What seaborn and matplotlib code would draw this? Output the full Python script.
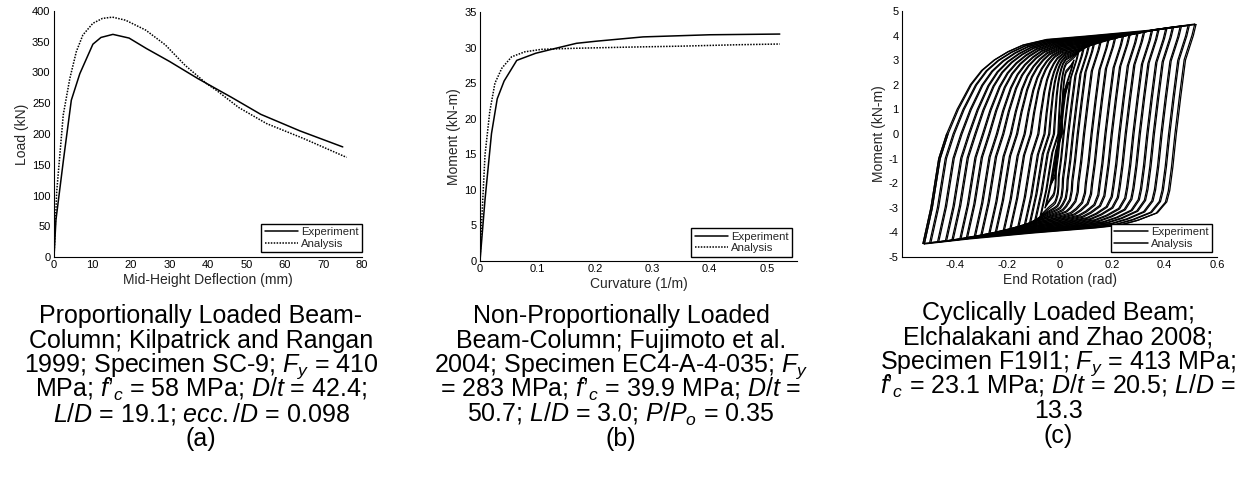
import numpy as np
import pandas as pd
import matplotlib
matplotlib.use("Agg")
import matplotlib.pyplot as plt
import seaborn as sns

# (a) proportionally loaded beam-column: deflection (mm) vs load (kN)
a_exp_defl = [0, 0.5, 2.5, 4.5, 6.7, 10.1, 12.2, 15.3, 19.5, 24, 30, 37.4, 46, 53.7, 63.9, 75]
a_exp_load = [0, 60, 160, 255, 298, 346, 357, 362, 356, 339, 318, 290, 260, 232, 205, 179]
a_ana_defl = [0, 0.7, 2.4, 4.1, 5.8, 7.5, 10.1, 12.6, 15.2, 18.6, 23.8, 28.9, 34, 39.6, 42.2, 48, 55.2, 64.7, 76]
a_ana_load = [0, 106, 231, 290, 334, 361, 380, 388, 390, 385, 369, 345, 312, 282, 271, 243, 217, 193, 162]

# (b) non-proportionally loaded beam-column: curvature (1/m) vs moment (kN-m)
b_exp_curv = [0, 0.0087, 0.020, 0.030, 0.042, 0.064, 0.097, 0.132, 0.168, 0.203, 0.284, 0.40, 0.522]
b_exp_mom = [0, 8.6, 17.9, 22.8, 25.3, 28.2, 29.2, 29.9, 30.6, 30.9, 31.5, 31.8, 31.9]
b_ana_curv = [0, 0.002, 0.0058, 0.0087, 0.017, 0.026, 0.038, 0.055, 0.078, 0.107, 0.165, 0.25, 0.35, 0.45, 0.522]
b_ana_mom = [0, 4, 10.2, 14.9, 21, 25, 27.1, 28.7, 29.4, 29.75, 29.9, 30.05, 30.2, 30.4, 30.5]

# (c) cyclically loaded beam: peak rotation (rad) and peak moment (kN-m) of each cycle
c_exp_amp = [0.03, 0.05, 0.07, 0.09, 0.11, 0.13, 0.155, 0.185, 0.21, 0.24, 0.265, 0.295,
             0.32, 0.35, 0.375, 0.405, 0.43, 0.46, 0.49, 0.52]
c_exp_peak = [2.0, 2.9, 3.3, 3.5, 3.6, 3.7, 3.78, 3.85, 3.92, 3.98, 4.04, 4.1,
              4.15, 4.2, 4.25, 4.3, 4.34, 4.38, 4.42, 4.45]
c_ana_amp = [0.035, 0.055, 0.075, 0.095, 0.115, 0.135, 0.16, 0.19, 0.215, 0.245, 0.27, 0.3,
             0.325, 0.355, 0.38, 0.41, 0.435, 0.465, 0.495, 0.515]
c_ana_peak = [2.1, 3.0, 3.4, 3.55, 3.65, 3.75, 3.82, 3.9, 3.96, 4.02, 4.08, 4.13,
              4.18, 4.23, 4.28, 4.32, 4.36, 4.4, 4.43, 4.47]
c_peak_ref = 4.45
# branch shapes read off the outer loop: moment as share of peak,
# elastic shift of rotation (rad, at the outer peak) and share of the remaining travel
down_mom = [1.0, 0.9, 0.675, 0.34, 0.0, -0.3, -0.517, -0.62, -0.72, -0.787, -0.83, -0.854, -0.9, -0.955, -1.0]
down_off = [0.0, 0.01, 0.04, 0.058, 0.075, 0.088, 0.10, 0.10, 0.10, 0.10, 0.10, 0.10, 0.10, 0.10, 0.10]
down_frac = [0, 0, 0, 0, 0, 0, 0, 0.012, 0.05, 0.128, 0.2, 0.298, 0.553, 0.819, 1.0]
up_mom = [-1.0, -0.675, -0.225, 0.0, 0.225, 0.45, 0.58, 0.675, 0.75, 0.81, 0.86, 0.89, 0.944, 1.0]
up_off = [0.0, 0.03, 0.06, 0.09, 0.09, 0.09, 0.09, 0.09, 0.09, 0.09, 0.09, 0.09, 0.09, 0.09]
up_frac = [0, 0, 0, 0, 0.042, 0.095, 0.14, 0.19, 0.245, 0.305, 0.40, 0.558, 0.82, 1.0]

captions = {
    "a": ["Proportionally Loaded Beam-",
          "Column; Kilpatrick and Rangan",
          "1999; Specimen SC-9; $F_y$ = 410",
          "MPa; $f’_c$ = 58 MPa; $D/t$ = 42.4;",
          "$L/D$ = 19.1; $ecc./D$ = 0.098",
          "(a)"],
    "b": ["Non-Proportionally Loaded",
          "Beam-Column; Fujimoto et al.",
          "2004; Specimen EC4-A-4-035; $F_y$",
          "= 283 MPa; $f’_c$ = 39.9 MPa; $D/t$ =",
          "50.7; $L/D$ = 3.0; $P/P_o$ = 0.35",
          "(b)"],
    "c": ["Cyclically Loaded Beam;",
          "Elchalakani and Zhao 2008;",
          "Specimen F19I1; $F_y$ = 413 MPa;",
          "$f’_c$ = 23.1 MPa; $D/t$ = 20.5; $L/D$ =",
          "13.3",
          "(c)"],
}


def curve_df(x_exp, y_exp, x_ana, y_ana):
    d1 = pd.DataFrame({"x": x_exp, "y": y_exp, "series": "Experiment"})
    d2 = pd.DataFrame({"x": x_ana, "y": y_ana, "series": "Analysis"})
    return pd.concat([d1, d2], ignore_index=True)


def branch(a, p, mom, off, frac, direction):
    off = np.array(off) * p / c_peak_ref
    span = 2 * a - off[-1]
    th = direction * (-a + off + np.array(frac) * span)
    return th, np.array(mom) * p


def loop_df(amps, peaks, series, seg0):
    rows = []
    seg = seg0
    for a, p in zip(amps, peaks):
        # reload from -a up to +a, then unload back down to -a
        for th, m in (branch(a, p, up_mom, up_off, up_frac, 1),
                      branch(a, p, down_mom, down_off, down_frac, -1)):
            for t, v in zip(th, m):
                rows.append((t, v, series, seg))
            seg += 1
    # last reloading stub, stops near zero moment
    th, m = branch(a, p, up_mom, up_off, up_frac, 1)
    for t, v in zip(th[:4], m[:4]):
        rows.append((t, v, series, seg))
    seg += 1
    return pd.DataFrame(rows, columns=["x", "y", "series", "seg"]), seg


def style_axes(ax):
    sns.despine(ax=ax)
    for s in ["left", "bottom"]:
        ax.spines[s].set_linewidth(0.8)
        ax.spines[s].set_color("k")
    ax.tick_params(direction="in", length=2.5, width=0.8, labelsize=8, pad=2.5, colors="k")


def add_legend(ax, handles, labels, anchor):
    leg = ax.legend(handles, labels, loc="lower right", bbox_to_anchor=anchor, borderaxespad=0,
                    frameon=True, fancybox=False, framealpha=1, edgecolor="k", fontsize=8.2,
                    handlelength=2.9, handletextpad=0.3, borderpad=0.3, labelspacing=0.15)
    leg.get_frame().set_linewidth(1.0)


sns.set_style("white")
plt.rcParams["font.family"] = ["Liberation Sans", "DejaVu Sans"]
plt.rcParams["mathtext.fontset"] = "custom"
plt.rcParams["mathtext.rm"] = "Liberation Sans"
plt.rcParams["mathtext.it"] = "Liberation Sans:italic"
plt.rcParams["axes.unicode_minus"] = False

W, H = 1246, 478
fig = plt.figure(figsize=(W / 100, H / 100), dpi=100)


def box(l, r, t, b):
    return [l / W, 1 - b / H, (r - l) / W, (b - t) / H]


ax_a = fig.add_axes(box(54, 362, 11, 257))
ax_b = fig.add_axes(box(480, 797, 12, 261))
ax_c = fig.add_axes(box(902, 1217, 11, 257))

dash_map = {"Experiment": "", "Analysis": (1, 0.9)}
lab_fs = 10

# (a)
df_a = curve_df(a_exp_defl, a_exp_load, a_ana_defl, a_ana_load)
sns.lineplot(data=df_a, x="x", y="y", style="series", dashes=dash_map, color="k",
             sort=False, estimator=None, lw=1.1, ax=ax_a)
ax_a.set_xlim(0, 80)
ax_a.set_ylim(0, 400)
ax_a.set_xticks(range(0, 81, 10))
ax_a.set_yticks(range(0, 401, 50))
ax_a.set_xlabel("Mid-Height Deflection (mm)", fontsize=lab_fs, labelpad=1.5)
ax_a.set_ylabel("Load (kN)", fontsize=lab_fs, labelpad=2)
style_axes(ax_a)
h, l = ax_a.get_legend_handles_labels()
add_legend(ax_a, h, l, (1.0, 0.02))

# (b)
df_b = curve_df(b_exp_curv, b_exp_mom, b_ana_curv, b_ana_mom)
sns.lineplot(data=df_b, x="x", y="y", style="series", dashes=dash_map, color="k",
             sort=False, estimator=None, lw=1.1, ax=ax_b)
ax_b.set_xlim(0, 0.552)
ax_b.set_ylim(0, 35)
ax_b.set_xticks([0, 0.1, 0.2, 0.3, 0.4, 0.5], ["0", "0.1", "0.2", "0.3", "0.4", "0.5"])
ax_b.set_yticks(range(0, 36, 5))
ax_b.set_xlabel("Curvature (1/m)", fontsize=lab_fs, labelpad=1.5)
ax_b.set_ylabel("Moment (kN-m)", fontsize=lab_fs, labelpad=2)
style_axes(ax_b)
h, l = ax_b.get_legend_handles_labels()
add_legend(ax_b, h, l, (0.985, 0.017))

# (c)
df_ce, nseg = loop_df(c_exp_amp, c_exp_peak, "Experiment", 0)
df_ca, _ = loop_df(c_ana_amp, c_ana_peak, "Analysis", nseg)
df_c = pd.concat([df_ce, df_ca], ignore_index=True)
sns.lineplot(data=df_c, x="x", y="y", hue="series", units="seg",
             palette={"Experiment": "k", "Analysis": "k"},
             sort=False, estimator=None, lw=0.9, ax=ax_c)
ax_c.set_xlim(-0.6, 0.6)
ax_c.set_ylim(-5, 5)
ax_c.set_xticks([-0.4, -0.2, 0, 0.2, 0.4, 0.6], ["-0.4", "-0.2", "0", "0.2", "0.4", "0.6"])
ax_c.set_yticks(range(-5, 6))
ax_c.set_xlabel("End Rotation (rad)", fontsize=lab_fs, labelpad=1.5)
ax_c.set_ylabel("Moment (kN-m)", fontsize=lab_fs, labelpad=2)
style_axes(ax_c)
h, l = ax_c.get_legend_handles_labels()
for hh in h:
    hh.set_linewidth(1.1)
add_legend(ax_c, h, l, (0.984, 0.02))

# captions under each panel, lines placed on fixed baselines
cap_x = {"a": 201, "b": 621, "c": 1058}
cap_base = {"a": 323, "b": 323, "c": 320}
pitch = 24.6
for key, lines in captions.items():
    for i, line in enumerate(lines):
        fig.text(cap_x[key] / W, 1 - (cap_base[key] + i * pitch) / H, line,
                 ha="center", va="baseline", fontsize=18, color="k")

fig.savefig("out.png", dpi=100)
